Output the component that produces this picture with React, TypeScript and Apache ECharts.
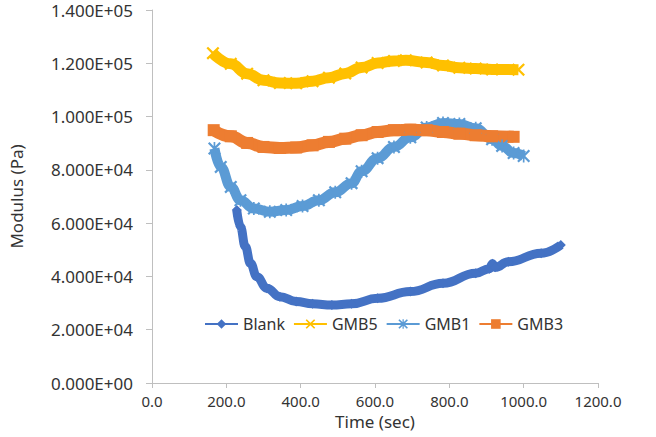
import { useEffect, useRef } from "react";
import * as echarts from "echarts";

// Legend order / series names
const seriesNames = ["Blank", "GMB5", "GMB1", "GMB3"];
const seriesColors = ["#4472C4", "#FFC000", "#5B9BD5", "#ED7D31"];

// Blank: modulus (Pa) vs time (sec)
const blankTime = [228, 238, 251, 265, 282, 309, 344, 388, 432, 484, 537, 607, 695, 783, 871, 908, 916, 923, 959, 1047, 1100];
const blankModulus = [64900, 58600, 51200, 44900, 39900, 35600, 32400, 30600, 29700, 29300, 29700, 31800, 34300, 37400, 41200, 42900, 44800, 43400, 45500, 48700, 51800];

// GMB5
const gmb5Time = [164, 212, 256, 300, 344, 388, 432, 476, 520, 564, 607, 651, 683, 739, 783, 827, 871, 915, 986];
const gmb5Modulus = [123800, 119800, 116100, 113600, 112600, 112500, 113300, 114600, 116200, 118400, 120100, 120900, 121100, 120300, 119200, 118300, 118000, 117700, 117600];

// GMB1
const gmb1Time = [168, 185, 212, 238, 274, 317, 361, 405, 449, 493, 537, 564, 607, 651, 695, 739, 783, 827, 871, 915, 942, 973, 1000];
const gmb1Modulus = [88000, 81100, 73600, 68600, 65500, 64300, 64900, 66400, 68600, 71600, 75000, 79500, 84400, 88600, 92200, 95900, 97600, 97200, 95600, 91500, 89000, 86300, 85200];

// GMB3
const gmb3Time = [166, 212, 256, 300, 344, 388, 432, 476, 520, 564, 607, 651, 695, 739, 783, 827, 871, 915, 973];
const gmb3Modulus = [94900, 92600, 90100, 88600, 88200, 88400, 89200, 90500, 91700, 93000, 94200, 94900, 95100, 94900, 94200, 93600, 93000, 92600, 92400];

// Excel-like marker shapes
const crossPath =
  "path://M0,1.2 L1.2,0 L5,3.8 L8.8,0 L10,1.2 L6.2,5 L10,8.8 L8.8,10 L5,6.2 L1.2,10 L0,8.8 L3.8,5 Z";
const starPath =
  "path://M0,1.2 L1.2,0 L5,3.8 L8.8,0 L10,1.2 L6.2,5 L10,8.8 L8.8,10 L5,6.2 L1.2,10 L0,8.8 L3.8,5 Z M4.35,0 L5.65,0 L5.65,10 L4.35,10 Z";

const zip = (xs: number[], ys: number[]) => xs.map((x, i) => [x, ys[i]]);

function sci(v: number): string {
  if (v === 0) return "0.000E+00";
  const exp = Math.floor(Math.log10(Math.abs(v)) + 1e-9);
  const mant = v / Math.pow(10, exp);
  const sign = exp >= 0 ? "+" : "-";
  return `${mant.toFixed(3)}E${sign}${String(Math.abs(exp)).padStart(2, "0")}`;
}

const FONT = "'Noto Sans', 'Open Sans', sans-serif";
const TEXT = "#333333";
const AXIS = "#BFBFBF";

export default function App() {
  const ref = useRef<HTMLDivElement>(null);

  useEffect(() => {
    if (!ref.current) return;
    const chart = echarts.init(ref.current, undefined, { renderer: "svg" });

    const lineSeries = (
      i: number,
      data: number[][],
      symbol: string,
      symbolSize: number,
      width: number
    ) => ({
      name: seriesNames[i],
      type: "line",
      data,
      smooth: 0.45,
      smoothMonotone: "x",
      symbol,
      symbolSize,
      showSymbol: true,
      showAllSymbol: true,
      lineStyle: { color: seriesColors[i], width, cap: "butt" },
      itemStyle: { color: seriesColors[i], borderWidth: 0 },
      emphasis: { disabled: true },
    });

    chart.setOption({
      animation: false,
      backgroundColor: "#ffffff",
      textStyle: { fontFamily: FONT },
      grid: { left: 143, right: 58, top: 10, bottom: 54 },
      legend: {
        data: seriesNames,
        left: 199,
        top: 311,
        itemWidth: 33,
        itemHeight: 12,
        itemGap: 8,
        textStyle: { fontSize: 16, color: TEXT, fontFamily: FONT },
        lineStyle: { width: 2 },
      },
      xAxis: {
        type: "value",
        min: 0,
        max: 1200,
        interval: 200,
        name: "Time (sec)",
        nameLocation: "middle",
        nameGap: 19,
        nameTextStyle: { fontSize: 17, color: TEXT, fontFamily: FONT },
        axisLine: { show: true, onZero: false, lineStyle: { color: AXIS, width: 1 } },
        axisTick: { show: true, length: 5, lineStyle: { color: AXIS } },
        axisLabel: {
          fontSize: 15,
          color: TEXT,
          margin: 10,
          fontFamily: FONT,
          formatter: (v: number) => v.toFixed(1),
        },
        splitLine: { show: false },
      },
      yAxis: {
        type: "value",
        min: 0,
        max: 140000,
        interval: 20000,
        name: "Modulus (Pa)",
        nameLocation: "middle",
        nameGap: 127,
        nameTextStyle: { fontSize: 17, color: TEXT, fontFamily: FONT },
        axisLine: { show: true, lineStyle: { color: AXIS, width: 1 } },
        axisTick: { show: true, length: 6, lineStyle: { color: AXIS } },
        axisLabel: {
          fontSize: 17,
          color: TEXT,
          margin: 19,
          fontFamily: FONT,
          formatter: (v: number) => sci(v),
        },
        splitLine: { show: false },
      },
      series: [
        lineSeries(0, zip(blankTime, blankModulus), "diamond", 10, 9),
        lineSeries(1, zip(gmb5Time, gmb5Modulus), crossPath, 13, 11),
        lineSeries(2, zip(gmb1Time, gmb1Modulus), starPath, 13, 10),
        lineSeries(3, zip(gmb3Time, gmb3Modulus), "rect", 12, 12),
      ],
    });

    return () => chart.dispose();
  }, []);

  return (
    <div
      ref={ref}
      style={{ position: "fixed", left: 0, top: 0, width: 656, height: 437, background: "#fff" }}
    />
  );
}
